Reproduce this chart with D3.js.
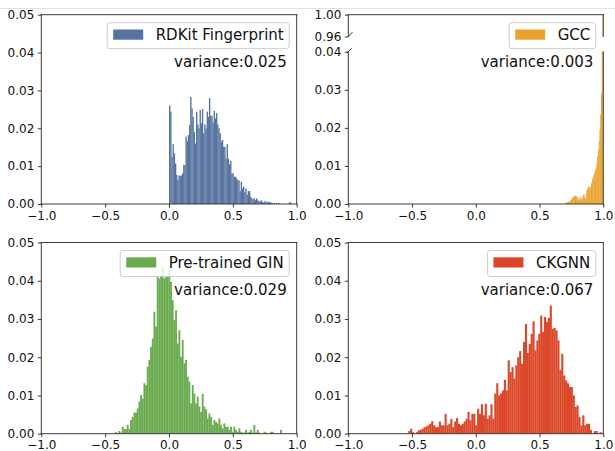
<!DOCTYPE html>
<html><head><meta charset="utf-8">
<script src="https://cdn.jsdelivr.net/npm/d3@7"></script>
<style>html,body{margin:0;padding:0;background:#fff}svg{display:block}</style>
</head><body>
<svg id="c" width="615" height="451"></svg>
<script>
// ---------------- data ----------------
const xTicks = [-1.0, -0.5, 0.0, 0.5, 1.0];
const yTicks = [0.00, 0.01, 0.02, 0.03, 0.04, 0.05];
const gccLowerTicks = [0.00, 0.01, 0.02, 0.03, 0.04];
const gccUpperTicks = [0.96, 1.00];

const seriesNames = ["RDKit Fingerprint", "GCC", "Pre-trained GIN", "CKGNN"];
const varianceLabels = ["variance:0.025", "variance:0.003", "variance:0.029", "variance:0.067"];

// histogram bins: first bin left edge, bin width, bin heights
const rdkitStart = 0.0, rdkitBin = 0.0092;
const rdkitValues = [0.026,0.0244,0.0125,0.0158,0.0134,0.0107,0.0077,0.0063,0.0075,0.0075,
0.0075,0.0081,0.0103,0.0103,0.0178,0.0166,0.0182,0.0209,0.0283,0.0253,
0.023,0.019,0.016,0.0244,0.021,0.020,0.0248,0.0213,0.0251,0.0187,
0.021,0.020,0.0244,0.023,0.028,0.0233,0.0233,0.0216,0.0246,0.0226,
0.024,0.021,0.020,0.0187,0.0165,0.0169,0.0151,0.0151,0.012,0.0158,
0.012,0.0105,0.0114,0.0081,0.0081,0.0072,0.0072,0.0068,0.0063,0.0063,
0.0034,0.0059,0.0041,0.0046,0.0031,0.0041,0.0024,0.0034,0.0034,0.0019,
0.0015,0.0013,0.0015,0.001,0.0015,0.001,0.0008,0.0006,0.001,0.0006,
0.0004,0.0008,0.0004,0.0006,0.0004,0.0006,0.0003,0.0004,0,0.0003,
0,0.0003,0,0.0003,0,0,0,0,0,0,
0,0,0.0004,0.0004];

const gccStart = 0.70, gccBin = 0.006;
const gccValues = [0.0003,0.0004,0.0003,0.0005,0.0006,0.0005,0.0008,0.001,0.0012,0.0016,
0.0018,0.0021,0.002,0.0022,0.0021,0.0018,0.0017,0.0012,0.001,0.0016,
0.002,0.0012,0.0015,0.0022,0.0026,0.0018,0.0014,0.0026,0.0035,0.0041,
0.0044,0.0047,0.0037,0.0045,0.0055,0.0068,0.0062,0.0075,0.0081,0.0088,
0.0095,0.0107,0.0125,0.0142,0.0165,0.0195,0.0235,0.029,0.045,1.0];

const ginStart = -0.422, ginBin = 0.01305;
const ginValues = [0.0004,0,0.0007,0.0003,0.0018,0.0012,0.0012,0.0023,0.0012,
0.0036,0.0044,0.0055,0.0055,0.0066,0.0084,0.0101,0.0092,0.0132,0.0127,
0.0175,0.0193,0.0227,0.0249,0.0319,0.028,0.041,0.0406,0.0415,0.0436,
0.0406,0.041,0.041,0.0428,0.0397,0.0349,0.0297,0.0323,0.0236,0.0271,
0.0201,0.0245,0.0184,0.0193,0.0149,0.0136,0.0079,0.0127,0.0105,0.0079,
0.0097,0.0071,0.0057,0.0104,0.0071,0.0064,0.004,0.0053,0.0044,0.0023,
0.0036,0.0031,0.0027,0.004,0.0023,0.0014,0.0027,0.0018,0.0018,0.001,
0.0018,0.0005,0.0018,0.001,0.0005,0.0014,0.0005,0.0003,0.0003,0.001,
0.0003,0.0005,0.001,0.0003,0.0023,0.0003,0.001,0.0003,0,0,
0.0005,0.0003,0,0,0.0005,0.0005,0,0,0,0,
0.001,0];

const ckgnnStart = -0.53, ckgnnBin = 0.015;
const ckgnnValues = [0.0007,0.0013,0.0004,0,0.0004,0.0009,0.001,0.0013,0.0017,0.0019,
0.0022,0.0026,0.0033,0.0022,0.0017,0.0017,0.0032,0.0022,0.0022,0.0052,
0.0022,0.0026,0.0039,0.0017,0.0032,0.0041,0.0026,0.0022,0.0026,0.0032,
0.0039,0.0057,0.0035,0.0052,0.0052,0.0022,0.0065,0.0052,0.0077,0.0048,
0.0078,0.0039,0.0048,0.0077,0.0039,0.0105,0.0132,0.01,0.0105,0.0113,
0.0141,0.0113,0.0192,0.0161,0.0174,0.0144,0.0179,0.02,0.0216,0.0183,
0.024,0.0287,0.0211,0.0235,0.0261,0.0294,0.0218,0.0244,0.0261,0.0309,
0.0266,0.0305,0.0292,0.0303,0.0335,0.0274,0.0277,0.027,0.0244,0.0167,
0.0209,0.0152,0.0139,0.0132,0.0122,0.0122,0.01,0.007,0.0074,0.0044,
0.0022,0.0048,0.0022,0.0026,0.0026,0.001,0,0.0007,0.0007,0,
0.0004];

// ---------------- drawing ----------------
const FONT = "DejaVu Sans";
const AXC = "#262626";
const colors = ["#56739f", "#e9a22d", "#6aab50", "#dc4729"];

const svg = d3.select("#c");
svg.append("rect").attr("width", 615).attr("height", 451).attr("fill", "#fff");
svg.append("line").attr("x1", 0).attr("x2", 615).attr("y1", 8.5).attr("y2", 8.5)
  .attr("stroke", "#e2e2e2").attr("stroke-width", 1);

const layout = [
  {left: 41.3, right: 296.7, top: 14.7, bottom: 204},
  {left: 348.3, right: 603.3, top: 14.7, bottom: 204},
  {left: 41.3, right: 296.7, top: 242.5, bottom: 433.7},
  {left: 348.3, right: 603.3, top: 242.5, bottom: 433.7}
];
const series = [
  {start: rdkitStart, bin: rdkitBin, values: rdkitValues},
  {start: gccStart, bin: gccBin, values: gccValues},
  {start: ginStart, bin: ginBin, values: ginValues},
  {start: ckgnnStart, bin: ckgnnBin, values: ckgnnValues}
];

const defs = svg.append("defs");
let clipId = 0;
function clip(x0, y0, x1, y1) {
  const id = "clip" + (clipId++);
  defs.append("clipPath").attr("id", id).append("rect")
    .attr("x", x0).attr("y", y0).attr("width", x1 - x0).attr("height", y1 - y0);
  return "url(#" + id + ")";
}

function drawBars(g, s, color, x, y, yBase, edge) {
  const bins = s.values.map((v, i) => ({x0: s.start + i * s.bin, x1: s.start + (i + 1) * s.bin, v}))
    .filter(d => d.v > 0);
  const r = g.selectAll("rect").data(bins).join("rect")
    .attr("x", d => x(d.x0))
    .attr("width", d => Math.max(0.1, x(d.x1) - x(d.x0) + 0.2))
    .attr("y", d => y(d.v))
    .attr("height", d => Math.max(0, y(yBase) - y(d.v)))
    .attr("fill", color);
  if (edge) r.attr("stroke", "#ffffff").attr("stroke-opacity", 0.1).attr("stroke-width", 0.2);
}

function styleAxis(g) {
  g.select(".domain").remove();
  g.attr("font-family", null).attr("font-size", null);
  g.selectAll(".tick line").attr("stroke", AXC).attr("stroke-width", 0.9);
  g.selectAll(".tick text").attr("fill", "#111").attr("font-family", FONT).attr("font-size", 12);
}

function xAxis(x, yPos) {
  svg.append("g").attr("transform", `translate(0,${yPos})`)
    .call(d3.axisBottom(x).tickValues(xTicks).tickFormat(d3.format(".1f"))
      .tickSize(3.5).tickPadding(3.5).tickSizeOuter(0))
    .call(styleAxis);
}
function yAxis(y, xPos, ticks) {
  svg.append("g").attr("transform", `translate(${xPos},0)`)
    .call(d3.axisLeft(y).tickValues(ticks).tickFormat(d3.format(".2f"))
      .tickSize(3.5).tickPadding(3.5).tickSizeOuter(0))
    .call(styleAxis);
}

function line(x1, y1, x2, y2) {
  svg.append("line").attr("x1", x1).attr("y1", y1).attr("x2", x2).attr("y2", y2)
    .attr("stroke", AXC).attr("stroke-width", 0.9).attr("stroke-linecap", "square");
}

function legendAndNote(L, i) {
  const g = svg.append("g");
  const box = g.append("rect");
  const txt = g.append("text").text(seriesNames[i])
    .attr("font-family", FONT).attr("font-size", 15).attr("fill", "#111");
  const tw = txt.node().getComputedTextLength();
  const bw = 6 + 30 + 12.5 + tw + 5.5;
  const bx = L.right - 7.5 - bw, by = L.top + 8;
  box.attr("x", bx).attr("y", by).attr("width", bw).attr("height", 26)
    .attr("rx", 3).attr("fill", "#fff").attr("fill-opacity", 0.8)
    .attr("stroke", "#cccccc").attr("stroke-width", 1);
  g.append("rect").attr("x", bx + 6).attr("y", by + 6.8).attr("width", 30).attr("height", 10.2)
    .attr("fill", colors[i]);
  txt.attr("x", bx + 48.5).attr("y", by + 17.6);
  svg.append("text").text(varianceLabels[i])
    .attr("x", L.right - 10).attr("y", L.top + 52.3).attr("text-anchor", "end")
    .attr("font-family", FONT).attr("font-size", 15).attr("fill", "#111");
}

// regular panels
[0, 2, 3].forEach(i => {
  const L = layout[i];
  const x = d3.scaleLinear().domain([-1, 1]).range([L.left, L.right]);
  const y = d3.scaleLinear().domain([0, 0.05]).range([L.bottom, L.top]);
  const g = svg.append("g").attr("clip-path", clip(L.left, L.top, L.right, L.bottom));
  drawBars(g, series[i], colors[i], x, y, 0, true);
  legendAndNote(L, i);
  line(L.left, L.top, L.right, L.top);
  line(L.left, L.bottom, L.right, L.bottom);
  line(L.left, L.top, L.left, L.bottom);
  line(L.right, L.top, L.right, L.bottom);
  xAxis(x, L.bottom);
  yAxis(y, L.left, yTicks);
});

// broken-axis GCC panel
{
  const L = layout[1];
  const upperBottom = 36.5, lowerTop = 51.7;
  const x = d3.scaleLinear().domain([-1, 1]).range([L.left, L.right]);
  const yLow = d3.scaleLinear().domain([0, 0.04]).range([L.bottom, lowerTop]);
  const yUp = d3.scaleLinear().domain([0.96, 1.0]).range([upperBottom, L.top]);
  const gl = svg.append("g").attr("clip-path", clip(L.left, lowerTop, L.right, L.bottom));
  drawBars(gl, series[1], colors[1], x, yLow, 0, false);
  const gu = svg.append("g").attr("clip-path", clip(L.left, L.top, L.right, upperBottom));
  const upSeries = {start: series[1].start, bin: series[1].bin,
    values: series[1].values.map(v => v > 0.96 ? Math.min(v, 1.0) : 0)};
  drawBars(gu, upSeries, colors[1], x, yUp, 0.96, false);
  legendAndNote(L, 1);
  // upper axes spines
  line(L.left, L.top, L.right, L.top);
  line(L.left, L.top, L.left, upperBottom);
  line(L.right, L.top, L.right, upperBottom);
  // lower axes spines
  line(L.left, lowerTop, L.left, L.bottom);
  line(L.right, lowerTop, L.right, L.bottom);
  line(L.left, L.bottom, L.right, L.bottom);
  // break marks
  line(L.left, upperBottom, L.left + 3.8, upperBottom - 4);
  line(L.left - 1, lowerTop + 1, L.left + 3, lowerTop - 3);
  xAxis(x, L.bottom);
  yAxis(yLow, L.left, gccLowerTicks);
  yAxis(yUp, L.left, gccUpperTicks);
}
</script>
</body></html>
